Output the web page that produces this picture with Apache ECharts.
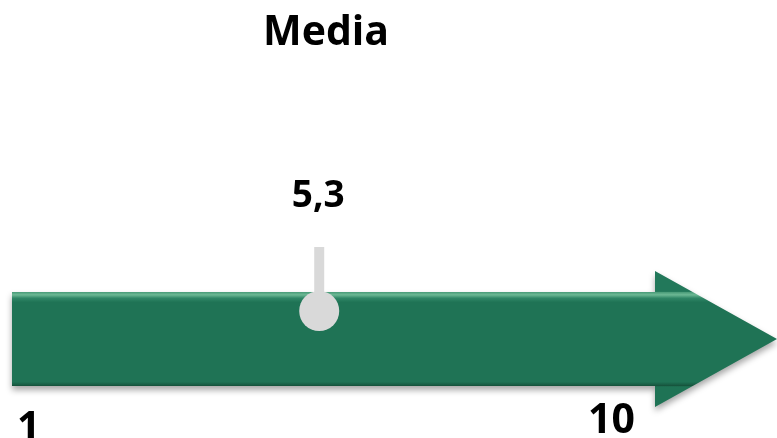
<!DOCTYPE html>
<html>
<head>
<meta charset="utf-8">
<script src="https://cdn.jsdelivr.net/npm/echarts@6/dist/echarts.min.js"></script>
<style>html,body{margin:0;padding:0;background:#fff}#c{width:777px;height:438px}</style>
</head>
<body>
<div id="c"></div>
<script>
var titleText = 'Media';
var scaleMin = 1;
var scaleMax = 10;
var tickLabels = [1, 10];
var meanValue = [5.3];
var meanLabel = ['5,3'];

var chart = echarts.init(document.getElementById('c'));
var FONT = '"Open Sans", "Noto Sans", sans-serif';

var option = {
  animation: false,
  title: {
    text: titleText,
    left: 258,
    top: 8,
    textStyle: { fontFamily: FONT, fontWeight: 'bold', fontSize: 41, color: '#000' }
  },
  grid: { left: 12, right: 122, top: 271, bottom: 31, containLabel: false, outerBoundsMode: 'none' },
  xAxis: {
    type: 'value',
    min: scaleMin,
    max: scaleMax,
    axisLine: { show: false },
    axisTick: { show: false },
    splitLine: { show: false },
    axisLabel: {
      customValues: tickLabels,
      margin: -6,
      alignMinLabel: 'left',
      alignMaxLabel: 'right',
      formatter: function (v) { return v === scaleMin ? '{a|' + v + '}' : '{b|' + v + '}'; },
      rich: {
        a: { fontFamily: FONT, fontWeight: 'bold', fontSize: 41, color: '#000', padding: [8, 0, 0, 5] },
        b: { fontFamily: FONT, fontWeight: 'bold', fontSize: 41, color: '#000', padding: [0, 20, 0, 0] }
      }
    }
  },
  yAxis: { type: 'value', min: 0, max: 1, show: false },
  series: [
    {
      type: 'custom',
      clip: false,
      data: [[scaleMin, scaleMax]],
      renderItem: function (params, api) {
        var s = api.coord([api.value(0), 0.5]);
        var e = api.coord([api.value(1), 0.5]);
        var cy = s[1];
        var bh = 47, hh = 68, hl = 122;
        return {
          type: 'polygon',
          shape: {
            points: [
              [s[0], cy - bh], [e[0], cy - bh], [e[0], cy - hh], [e[0] + hl, cy],
              [e[0], cy + hh], [e[0], cy + bh], [s[0], cy + bh]
            ]
          },
          style: {
            fill: new echarts.graphic.LinearGradient(0, 0, 0, 1, [
              { offset: 0, color: '#22785a' },
              { offset: 0.15, color: '#22785a' },
              { offset: 0.158, color: '#4e9f7c' },
              { offset: 0.175, color: '#6cb894' },
              { offset: 0.2, color: '#2f8666' },
              { offset: 0.23, color: '#1f7355' },
              { offset: 0.815, color: '#1f7355' },
              { offset: 0.835, color: '#195e45' },
              { offset: 0.846, color: '#155038' },
              { offset: 0.85, color: '#1f7355' },
              { offset: 1, color: '#1f7355' }
            ]),
            shadowBlur: 6,
            shadowOffsetY: 4,
            shadowColor: 'rgba(0,0,0,0.35)'
          }
        };
      }
    },
    {
      type: 'custom',
      clip: false,
      data: meanValue.map(function (v, i) { return [v, i]; }),
      renderItem: function (params, api) {
        var p = api.coord([api.value(0), 0.5]);
        var x = p[0], cy = p[1] - 28;
        return {
          type: 'group',
          children: [
            { type: 'line', shape: { x1: x, y1: cy, x2: x, y2: cy - 64 }, style: { stroke: '#d9d9d9', lineWidth: 10 } },
            { type: 'circle', shape: { cx: x, cy: cy, r: 20 }, style: { fill: '#d9d9d9' } },
            { type: 'text', x: x - 1, y: 196, style: { text: meanLabel[params.dataIndex], fontFamily: FONT, fontWeight: 'bold', fontSize: 37, fill: '#000', align: 'center', verticalAlign: 'middle' } }
          ]
        };
      }
    }
  ]
};
chart.setOption(option);
</script>
</body>
</html>
